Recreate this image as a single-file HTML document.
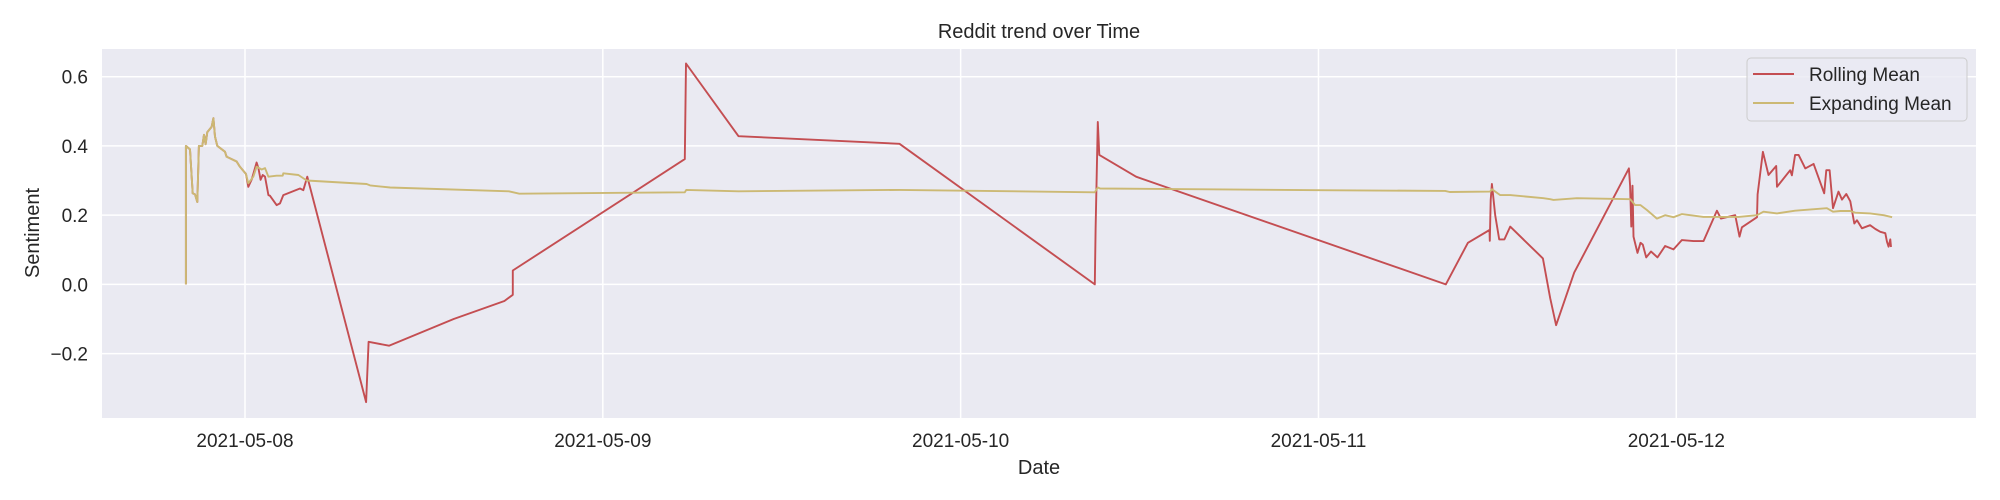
<!DOCTYPE html>
<html><head><meta charset="utf-8"><style>
html,body{margin:0;padding:0;background:#fff;}
svg{display:block;font-family:"Liberation Sans",Arial,sans-serif;}
</style></head><body>
<svg id="chart" width="2000" height="500" viewBox="0 0 2000 500" xmlns="http://www.w3.org/2000/svg">
<rect x="102" y="49" width="1874" height="369" fill="#eaeaf2"/>
<g id="grid"></g>
<g id="series"></g>
<g id="axes"></g>
<text x="1039" y="38" font-size="20" fill="#262626" text-anchor="middle">Reddit trend over Time</text>
<text x="1039" y="474" font-size="20" fill="#262626" text-anchor="middle">Date</text>
<text x="0" y="0" transform="translate(39,233) rotate(-90)" font-size="20" fill="#262626" text-anchor="middle">Sentiment</text>
<g>
<rect x="1747" y="58" width="220" height="63" rx="4" fill="#eaeaf2" fill-opacity="0.8" stroke="#cccccc" stroke-width="1"/>
<line x1="1753" y1="74" x2="1794" y2="74" stroke="#c44e52" stroke-width="2"/>
<text x="1809" y="81" font-size="19" fill="#262626">Rolling Mean</text>
<line x1="1753" y1="103" x2="1794" y2="103" stroke="#ccb974" stroke-width="2"/>
<text x="1809" y="110" font-size="19" fill="#262626">Expanding Mean</text>
</g>
</svg>
<script>
// hours since 2021-05-08 00:00
const xTickHours = [0, 24, 48, 72, 96];
const xTickLabels = ["2021-05-08", "2021-05-09", "2021-05-10", "2021-05-11", "2021-05-12"];
const yTicks = [-0.2, 0.0, 0.2, 0.4, 0.6];
const yTickLabels = ["\u22120.2", "0.0", "0.2", "0.4", "0.6"];

const earlyHours = [-3.96,-3.96,-3.69,-3.51,-3.35,-3.2,-3.09,-2.86,-2.75,-2.64,-2.53,-2.24,-2.12,-2.01,-1.86,-1.34,-1.23,-0.56,-0.34,0.07];
const earlyValues = [0.0,0.40,0.39,0.263,0.26,0.238,0.40,0.40,0.432,0.405,0.44,0.455,0.48,0.427,0.40,0.383,0.369,0.355,0.34,0.319];

const rollingHours = [0.22,0.45,0.78,0.9,1.05,1.19,1.34,1.57,1.68,2.12,2.35,2.57,3.69,3.91,4.18,8.12,8.29,9.66,14.0,17.4,17.96,17.96,29.5,29.58,33.1,43.9,57.0,57.05,57.2,57.3,59.77,80.54,82.02,83.47,83.49,83.55,83.63,83.85,84.12,84.47,84.86,87.05,87.54,87.94,89.15,92.82,92.9,92.98,93.06,93.13,93.40,93.6,93.75,93.98,94.3,94.74,95.25,95.81,96.37,97.15,97.82,98.72,98.99,99.95,100.24,100.40,101.41,101.45,101.81,102.18,102.70,102.75,103.64,103.75,103.97,104.2,104.65,105.21,105.92,106.06,106.28,106.51,106.88,107.11,107.40,107.67,107.94,108.12,108.45,109.0,109.35,109.68,110.02,110.13,110.24,110.35,110.4];
const rollingValues = [0.282,0.303,0.352,0.336,0.302,0.316,0.311,0.258,0.256,0.229,0.234,0.258,0.277,0.272,0.311,-0.34,-0.166,-0.177,-0.10,-0.048,-0.03,0.04,0.362,0.638,0.428,0.406,0.0,0.16,0.469,0.374,0.311,0.0,0.12,0.157,0.126,0.244,0.29,0.2,0.13,0.13,0.167,0.075,-0.04,-0.118,0.034,0.335,0.285,0.167,0.285,0.138,0.091,0.12,0.115,0.078,0.095,0.078,0.111,0.101,0.128,0.125,0.125,0.213,0.19,0.2,0.138,0.165,0.194,0.26,0.383,0.316,0.342,0.282,0.33,0.315,0.374,0.374,0.335,0.348,0.263,0.33,0.33,0.22,0.268,0.245,0.261,0.24,0.176,0.185,0.162,0.171,0.16,0.152,0.148,0.123,0.109,0.13,0.108];

const expandingHours = [0.22,0.56,0.78,1.12,1.34,1.57,2.12,2.53,2.57,3.58,4.14,8.16,8.39,9.73,17.7,18.4,29.5,29.6,33.1,43.9,57.0,57.2,57.35,72.0,80.5,80.8,83.51,83.63,84.19,84.86,87.09,87.54,87.76,89.33,92.91,93.24,93.6,94.03,94.70,95.25,95.81,96.37,97.82,98.72,100.17,101.41,101.85,102.75,103.97,106.10,106.51,107.0,107.67,108.0,109.0,109.9,110.47];
const expandingValues = [0.292,0.311,0.34,0.332,0.336,0.311,0.314,0.314,0.321,0.316,0.30,0.29,0.286,0.28,0.269,0.262,0.266,0.273,0.269,0.273,0.266,0.28,0.277,0.272,0.27,0.267,0.268,0.275,0.258,0.258,0.249,0.246,0.244,0.249,0.246,0.229,0.229,0.215,0.19,0.2,0.194,0.203,0.195,0.195,0.195,0.2,0.21,0.205,0.213,0.22,0.21,0.212,0.212,0.207,0.205,0.2,0.194];

const NS = "http://www.w3.org/2000/svg";
const L = 102, R = 1976, T = 49, B = 418;
const hMin = -9.59, hMax = 116.1, vMin = -0.386, vMax = 0.68;
function xs(h){ return L + (h - hMin) / (hMax - hMin) * (R - L); }
function ys(v){ return B - (v - vMin) / (vMax - vMin) * (B - T); }

const grid = document.getElementById('grid');
const axes = document.getElementById('axes');
const series = document.getElementById('series');

xTickHours.forEach((h, i) => {
  const ln = document.createElementNS(NS, 'line');
  
  
  ln.setAttribute('x1', xs(h)); ln.setAttribute('x2', xs(h));
  ln.setAttribute('y1', T); ln.setAttribute('y2', B);
  ln.setAttribute('stroke', '#fff'); ln.setAttribute('stroke-width', '1.5');
  grid.appendChild(ln);
  const t = document.createElementNS(NS, 'text');
  
  
  t.setAttribute('x', xs(h)); t.setAttribute('y', 447);
  t.setAttribute('font-size', '19'); t.setAttribute('fill', '#262626');
  t.setAttribute('text-anchor', 'middle');
  t.textContent = xTickLabels[i];
  axes.appendChild(t);
});
yTicks.forEach((v, i) => {
  const ln = document.createElementNS(NS, 'line');
  
  
  ln.setAttribute('x1', L); ln.setAttribute('x2', R);
  ln.setAttribute('y1', ys(v)); ln.setAttribute('y2', ys(v));
  ln.setAttribute('stroke', '#fff'); ln.setAttribute('stroke-width', '1.5');
  grid.appendChild(ln);
  const t = document.createElementNS(NS, 'text');
  
  
  t.setAttribute('x', 88); t.setAttribute('y', ys(v) + 7);
  t.setAttribute('font-size', '19'); t.setAttribute('fill', '#262626');
  t.setAttribute('text-anchor', 'end');
  t.textContent = yTickLabels[i];
  axes.appendChild(t);
});

function pts(hs, vs){ return hs.map((h, i) => xs(h).toFixed(1) + ',' + ys(vs[i]).toFixed(1)).join(' '); }
const early = pts(earlyHours, earlyValues);

const roll = document.createElementNS(NS, 'polyline');


roll.setAttribute('points', early + ' ' + pts(rollingHours, rollingValues));
roll.setAttribute('fill', 'none'); roll.setAttribute('stroke', '#c44e52');
roll.setAttribute('stroke-width', '1.9'); roll.setAttribute('stroke-linejoin', 'round');
series.appendChild(roll);

const exp = document.createElementNS(NS, 'polyline');


exp.setAttribute('points', early + ' ' + pts(expandingHours, expandingValues));
exp.setAttribute('fill', 'none'); exp.setAttribute('stroke', '#ccb974');
exp.setAttribute('stroke-width', '1.9'); exp.setAttribute('stroke-linejoin', 'round');
series.appendChild(exp);
</script>
</body></html>
